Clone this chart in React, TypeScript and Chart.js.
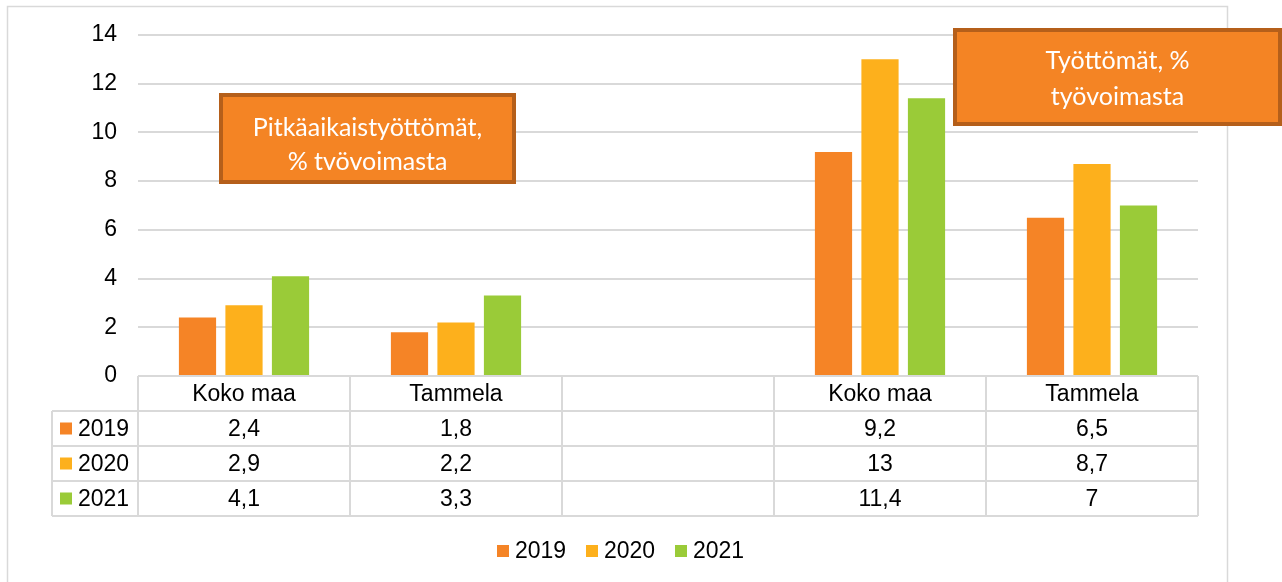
import React, { useEffect, useRef } from "react";
import { Chart, registerables } from "chart.js";

Chart.register(...registerables);

const categories = ["Koko maa", "Tammela", "", "Koko maa", "Tammela"];
const seriesNames = ["2019", "2020", "2021"];
const values2019 = [2.4, 1.8, null, 9.2, 6.5];
const values2020 = [2.9, 2.2, null, 13, 8.7];
const values2021 = [4.1, 3.3, null, 11.4, 7];
const seriesColors = ["#F58426", "#FDB01C", "#9ACB38"];
const yTicks = [0, 2, 4, 6, 8, 10, 12, 14];
const note1 = ["Pitkäaikaistyöttömät,", "% tvövoimasta"];
const note2 = ["Työttömät, %", "työvoimasta"];

const FONT = "Liberation Sans, Arial, sans-serif";
const NOTE_FONT = "Lato, 'Open Sans', sans-serif";
const LINE = "#D9D9D9";

function fmt(v: number | null): string {
  if (v === null || v === undefined) return "";
  return String(v).replace(".", ",");
}

export default function App() {
  const ref = useRef<HTMLCanvasElement | null>(null);

  useEffect(() => {
    const canvas = ref.current;
    if (!canvas) return;
    const allSeries = [values2019, values2020, values2021];

    const decor = {
      id: "decor",
      beforeDraw(chart: any) {
        const ctx = chart.ctx;
        ctx.save();
        ctx.fillStyle = "#fff";
        ctx.fillRect(0, 0, chart.width, chart.height);
        ctx.strokeStyle = LINE;
        ctx.lineWidth = 1.5;
        ctx.strokeRect(7.5, 6.5, 1220, 620);
        ctx.restore();
      },
      afterDraw(chart: any) {
        const ctx = chart.ctx;
        const xs = chart.scales.x;
        const area = chart.chartArea;
        const n = categories.length;
        const cw = (area.right - area.left) / n;
        const top = area.bottom;
        const rowH = 35;
        const rows = [top, top + rowH, top + 2 * rowH, top + 3 * rowH, top + 4 * rowH];
        const leftCol = 52;
        ctx.save();
        ctx.strokeStyle = LINE;
        ctx.lineWidth = 2;
        ctx.beginPath();
        ctx.moveTo(area.left, rows[0]);
        ctx.lineTo(area.right, rows[0]);
        for (let r = 1; r < rows.length; r++) {
          ctx.moveTo(leftCol, rows[r]);
          ctx.lineTo(area.right, rows[r]);
        }
        for (let i = 0; i <= n; i++) {
          const x = i < n ? xs.getPixelForValue(i) - cw / 2 : xs.getPixelForValue(n - 1) + cw / 2;
          ctx.moveTo(x, rows[0]);
          ctx.lineTo(x, rows[4]);
        }
        ctx.moveTo(leftCol, rows[1]);
        ctx.lineTo(leftCol, rows[4]);
        ctx.stroke();

        ctx.fillStyle = "#000";
        ctx.font = `23px ${FONT}`;
        ctx.textAlign = "center";
        ctx.textBaseline = "middle";
        for (let i = 0; i < n; i++) {
          const cx = xs.getPixelForValue(i);
          ctx.fillText(categories[i], cx, (rows[0] + rows[1]) / 2 + 1);
          for (let s = 0; s < 3; s++) {
            ctx.fillText(fmt(allSeries[s][i] as any), cx, (rows[s + 1] + rows[s + 2]) / 2 + 1);
          }
        }
        ctx.textAlign = "left";
        for (let s = 0; s < 3; s++) {
          const cy = (rows[s + 1] + rows[s + 2]) / 2;
          ctx.fillStyle = seriesColors[s];
          ctx.fillRect(60, cy - 6, 12, 12);
          ctx.fillStyle = "#000";
          ctx.fillText(seriesNames[s], 78, cy + 1);
        }

        const legX = [497, 586, 675];
        const legY = 551;
        for (let s = 0; s < 3; s++) {
          ctx.fillStyle = seriesColors[s];
          ctx.fillRect(legX[s], legY - 6, 12, 12);
          ctx.fillStyle = "#000";
          ctx.fillText(seriesNames[s], legX[s] + 18, legY + 1);
        }

        const drawNote = (x0: number, y0: number, x1: number, y1: number, lines: string[], ys: number[]) => {
          ctx.fillStyle = "#F48424";
          ctx.fillRect(x0, y0, x1 - x0, y1 - y0);
          ctx.strokeStyle = "#B55F1A";
          ctx.lineWidth = 4;
          ctx.strokeRect(x0 + 2, y0 + 2, x1 - x0 - 4, y1 - y0 - 4);
          ctx.fillStyle = "#fff";
          ctx.font = `25px ${NOTE_FONT}`;
          ctx.textAlign = "center";
          ctx.textBaseline = "middle";
          const cx = (x0 + x1) / 2;
          lines.forEach((t, k) => ctx.fillText(t, cx, ys[k]));
        };
        drawNote(219, 93, 516, 184, note1, [128, 162]);
        drawNote(953, 28, 1282, 126, note2, [61, 97]);
        ctx.restore();
      },
    };

    const chart = new Chart(canvas, {
      type: "bar",
      data: {
        labels: categories,
        datasets: seriesNames.map((name, s) => ({
          label: name,
          data: allSeries[s] as any,
          backgroundColor: seriesColors[s],
          categoryPercentage: 0.658,
          barPercentage: 0.8,
        })),
      },
      options: {
        responsive: false,
        animation: false,
        devicePixelRatio: 1,
        layout: { padding: { top: 35, right: 84, left: 0, bottom: 0 } },
        plugins: { legend: { display: false }, tooltip: { enabled: false } },
        scales: {
          x: {
            display: true,
            ticks: { display: false },
            grid: { display: false },
            border: { display: false },
            afterFit(scale: any) {
              scale.height = 206;
            },
          },
          y: {
            min: 0,
            max: 14,
            afterBuildTicks(scale: any) {
              scale.ticks = yTicks.map((v) => ({ value: v }));
            },
            ticks: {
              padding: 21,
              color: "#000",
              font: { family: FONT, size: 23 },
            },
            grid: { color: LINE, lineWidth: 2, drawTicks: false },
            border: { display: false },
            afterFit(scale: any) {
              scale.width = 138;
            },
          },
        },
      },
      plugins: [decor],
    });
    return () => chart.destroy();
  }, []);

  return (
    <div style={{ position: "fixed", left: 0, top: 0, width: 1282, height: 582 }}>
      <canvas ref={ref} width={1282} height={582} />
    </div>
  );
}
